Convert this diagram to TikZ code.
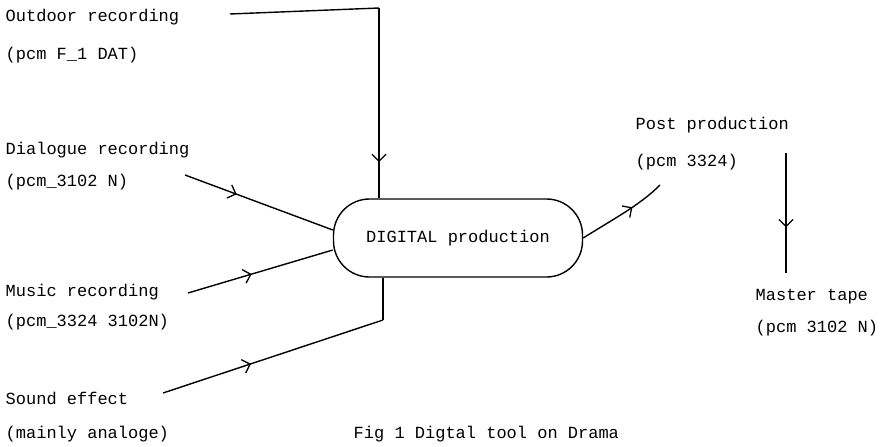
\documentclass[tikz,border=0pt]{standalone}
\usepackage{fontspec}
\setmonofont{Liberation Mono}
\usetikzlibrary{decorations.markings,arrows.meta,calc}

\begin{document}
\begin{tikzpicture}[x=1pt,y=-1pt,line width=1.4pt,
  lbl/.style={inner sep=0pt,anchor=west,font=\ttfamily\fontsize{17}{20}\selectfont},
  midarrow/.style={postaction={decorate},decoration={markings,
    mark=at position #1 with {\arrow[line width=1.3pt]{Straight Barb[length=7pt,width=14pt]}}}},
]
\useasboundingbox (0,0) rectangle (886,447);

% sources on the left
\node[lbl] (outdoor)     at (5,17)  {Outdoor recording};
\node[lbl] (outdoorfmt)  at (5,55)  {(pcm F\_1 DAT)};
\node[lbl] (dialogue)    at (5,150) {Dialogue recording};
\node[lbl] (dialoguefmt) at (5,182) {(pcm\_3102 N)};
\node[lbl] (music)       at (5,292) {Music recording};
\node[lbl] (musicfmt)    at (5,322) {(pcm\_3324 3102N)};
\node[lbl] (sound)       at (5,398) {Sound effect};
\node[lbl] (soundfmt)    at (5,434) {(mainly analoge)};

% central production stage
\node[draw,rounded corners=36pt,minimum width=249pt,minimum height=78pt,
      inner sep=0pt,font=\ttfamily\fontsize{17}{20}\selectfont]
      (digital) at (458,238) {DIGITAL production};

% outputs on the right
\node[lbl] (post)      at (635,125) {Post production};
\node[lbl] (postfmt)   at (635,162) {(pcm 3324)};
\node[lbl] (master)    at (755,297) {Master tape};
\node[lbl] (masterfmt) at (755,328) {(pcm 3102 N)};

\node[lbl] (caption) at (353,434) {Fig 1 Digtal tool on Drama};

% connector end points
\coordinate (outA)   at (230,14);
\coordinate (outB)   at (379,8);
\coordinate (dlgEnd) at (185,175);
\coordinate (musEnd) at (188,293);
\coordinate (sndEnd) at (163,393);
\coordinate (sndBend) at (383,320);
\coordinate (postEnd) at (660,185);
\coordinate (mtTop)  at (786,153);
\coordinate (mtBot)  at (786,273);

% connectors
\draw (outA) -- (outB);
\draw[midarrow=0.81] (outB) -- (outB |- digital.north);
\draw[midarrow=0.35] (dlgEnd) -- ($(digital.west)+(0,-8)$);
\draw[midarrow=0.44] (musEnd) -- ($(digital.west)+(0,12)$);
\draw[midarrow=0.40] (sndEnd) -- (sndBend);
\draw (sndBend) -- (sndBend |- digital.south);
\draw[midarrow=0.62] (digital.east) .. controls (615,218) and (640,205) .. (postEnd);
\draw[midarrow=0.62] (mtTop) -- (mtBot);
\end{tikzpicture}
\end{document}
